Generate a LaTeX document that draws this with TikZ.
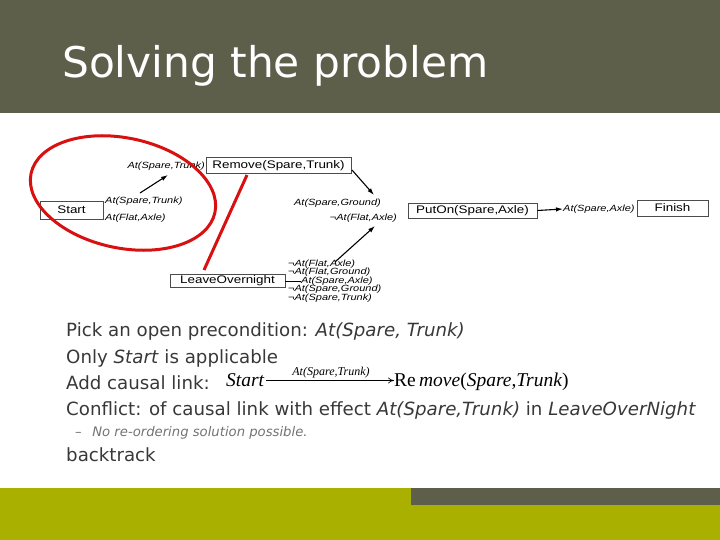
\documentclass[tikz,border=0pt]{standalone}
\usepackage{fontspec}
\setmainfont{DejaVu Sans}
\newfontfamily\arialfam[FakeStretch=1.22]{Liberation Sans}
\newfontfamily\timesfam{Liberation Serif}
\usetikzlibrary{arrows.meta}
\definecolor{hdr}{HTML}{5E5F4B}
\definecolor{olive}{HTML}{AAB000}
\definecolor{body}{HTML}{383838}
\definecolor{redline}{HTML}{D81010}
\tikzset{
  box/.style={draw=black!70, line width=0.8pt, fill=white, inner sep=0pt, font=\arialfam\fontsize{11}{12}\selectfont},
  lbl/.style={inner sep=0pt, font=\arialfam\itshape\fontsize{9}{10}\selectfont},
  arr/.style={line width=1.1pt, -{Latex[length=7pt,width=4.5pt]}},
  bodytxt/.style={inner sep=0pt, anchor=base west, text=body, font=\fontsize{18.2}{21}\selectfont},
}
\begin{document}
\begin{tikzpicture}[x=1pt,y=-1pt]
\useasboundingbox (0,0) rectangle (720,540);
% header and footer bands
\fill[hdr] (0,0) rectangle (720,113);
\node[anchor=base west, inner sep=0pt, text=white, font=\fontsize{42.3}{48}\selectfont] (title) at (62,78) {Solving the problem};
\fill[olive] (0,488) rectangle (720,540);
\fill[hdr] (411,488) rectangle (720,505);

% plan diagram
\node[box, minimum width=63pt, minimum height=18pt] (start) at (71.5,210) {Start};
\node[lbl, anchor=west] (s1) at (105,201) {At(Spare,Trunk)};
\node[lbl, anchor=west] (s2) at (105,218) {At(Flat,Axle)};

\node[box, minimum width=145pt, minimum height=16pt] (remove) at (278.5,165.5) {Remove(Spare,Trunk)};
\node[lbl, anchor=east] (r1) at (205,166) {At(Spare,Trunk)};

\node[box, minimum width=129pt, minimum height=15pt] (puton) at (472.5,210.5) {PutOn(Spare,Axle)};
\node[lbl, anchor=east] (p1) at (381,203) {At(Spare,Ground)};
\node[lbl, anchor=east] (p2) at (397,218) {¬At(Flat,Axle)};

\node[lbl, anchor=west] (f1) at (563,209) {At(Spare,Axle)};
\node[box, minimum width=71pt, minimum height=16pt] (finish) at (672.5,208) {Finish};

\node[box, minimum width=115pt, minimum height=13pt] (leave) at (227.5,281) {LeaveOvernight};
\node[lbl, anchor=west] (e1) at (288,264) {¬At(Flat,Axle)};
\node[lbl, anchor=west] (e2) at (288,272.5) {¬At(Flat,Ground)};
\node[lbl, anchor=west] (e3) at (301,281) {At(Spare,Axle)};
\node[lbl, anchor=west] (e4) at (288,289.5) {¬At(Spare,Ground)};
\node[lbl, anchor=west] (e5) at (288,298) {¬At(Spare,Trunk)};
\draw[line width=0.8pt] (leave.east) -- (e3.west);

\coordinate (a1s) at (140,193);
\coordinate (a1e) at (168,175);
\draw[arr] (a1s) -- (a1e);
\coordinate (a2s) at (352,170);
\coordinate (a2e) at (374,195);
\draw[arr] (a2s) -- (a2e);
\draw[arr] (puton.east) -- (f1.west);
\coordinate (a4s) at (335,262);
\coordinate (a4e) at (375,226);
\draw[arr] (a4s) -- (a4e);

% red annotations
\draw[redline, line width=3pt, rotate around={-12:(123,193)}] (123,193) ellipse (94pt and 55pt);
\coordinate (rl1) at (247,175);
\coordinate (rl2) at (204,270);
\draw[redline, line width=3pt] (rl1) -- (rl2);

% body text
\node[bodytxt] (t1) at (66,336) {Pick an open precondition: \textit{At(Spare, Trunk)}};
\node[bodytxt] (t2) at (66,363) {Only \textit{Start} is applicable};
\node[bodytxt] (t3) at (66,389) {Add causal link:};
\node[inner sep=0pt, anchor=base west, font=\timesfam\itshape\fontsize{19.5}{21}\selectfont] (cs) at (226,386) {Start};
\node[inner sep=0pt, anchor=base west, font=\timesfam\fontsize{19.5}{21}\selectfont] (cr) at (394,386) {Re\,\textit{move}(\textit{Spare},\textit{Trunk})};
\draw[line width=0.6pt, -{To[length=6pt,width=6pt]}] ([xshift=2pt,yshift=5.5pt]cs.base east) -- ([yshift=5.5pt]cr.base west);
\node[inner sep=0pt, font=\timesfam\itshape\fontsize{12}{13}\selectfont] (cl) at (331,373) {At(Spare,Trunk)};
\node[bodytxt] (t4) at (66,415) {Conflict: of causal link with effect \textit{At(Spare,Trunk)} in \textit{LeaveOverNight}};
\node[bodytxt, font=\itshape\fontsize{13.2}{15}\selectfont, text=black!55] (t5) at (75,436) {–\hspace{0.8em}No re-ordering solution possible.};
\node[bodytxt] (t6) at (66,461) {backtrack};
\end{tikzpicture}
\end{document}
